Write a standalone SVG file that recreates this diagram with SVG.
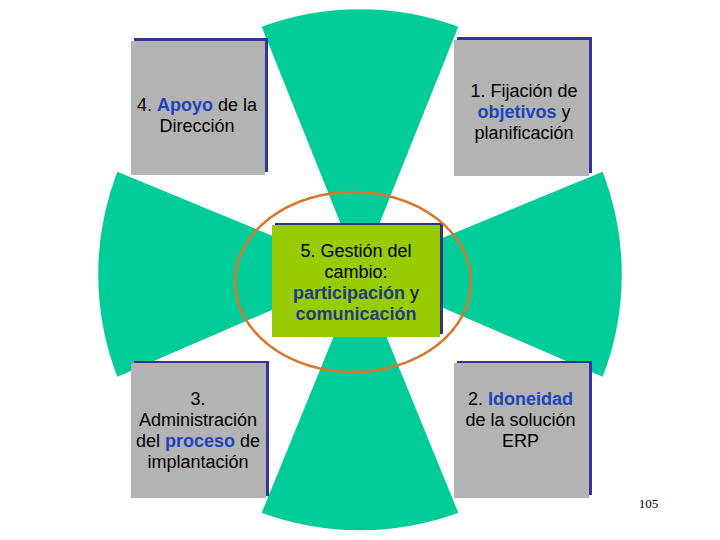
<svg xmlns="http://www.w3.org/2000/svg" width="720" height="540" viewBox="0 0 720 540">
<style>
.wedge{fill:#00cc99}
.shadow{fill:#333399}
.box{fill:#b3b3b3}
.t{font-family:"Liberation Sans",Arial,sans-serif;font-size:18px;fill:#000;text-anchor:middle}
.b{font-weight:bold;fill:#2244bb}
.bc{font-weight:bold;fill:#1f3a8c}
</style>
<rect width="720" height="540" fill="#fff"/>
<g id="wedges">
<path class="wedge" d="M360 272 L261.7 26.7 A285 285 0 0 1 458.3 26.7 Z"/>
<path class="wedge" d="M360 272 L458.3 512.7 A285 285 0 0 1 261.7 512.7 Z"/>
<path class="wedge" d="M360 272 L117.3 376.7 A285 285 0 0 1 117.3 171.7 Z"/>
<path class="wedge" d="M360 272 L602.7 171.7 A285 285 0 0 1 602.7 376.7 Z"/>
</g>
<g id="node4">
<rect class="shadow" x="134" y="38" width="134" height="134"/>
<rect class="box" x="131" y="41" width="134" height="134"/>
<text class="t" x="197" y="111">4. <tspan class="b">Apoyo</tspan> de la</text>
<text class="t" x="197" y="132">Dirección</text>
</g>
<g id="node1">
<rect class="shadow" x="457" y="37" width="135" height="136"/>
<rect class="box" x="454" y="40" width="135" height="136"/>
<text class="t" x="524" y="97">1. Fijación de</text>
<text class="t" x="524" y="118"><tspan class="b">objetivos</tspan> y</text>
<text class="t" x="524" y="139">planificación</text>
</g>
<g id="node3">
<rect class="shadow" x="134" y="361" width="135" height="135"/>
<rect class="box" x="131" y="363" width="135" height="135"/>
<text class="t" x="198" y="405">3.</text>
<text class="t" x="198" y="426">Administración</text>
<text class="t" x="198" y="447">del <tspan class="b">proceso</tspan> de</text>
<text class="t" x="198" y="468">implantación</text>
</g>
<g id="node2">
<rect class="shadow" x="457" y="361" width="135" height="134"/>
<rect class="box" x="454" y="363" width="135" height="135"/>
<text class="t" x="520.5" y="405">2. <tspan class="b">Idoneidad</tspan></text>
<text class="t" x="520.5" y="426">de la solución</text>
<text class="t" x="520.5" y="447">ERP</text>
</g>
<g id="node5">
<rect x="275" y="223" width="168" height="111" fill="#333380"/>
<rect x="272" y="225" width="168" height="112" fill="#99cc00"/>
<text class="t" x="356" y="257">5. Gestión del</text>
<text class="t" x="356" y="278">cambio:</text>
<text class="t" x="356" y="299"><tspan class="bc">participación</tspan> y</text>
<text class="t" x="356" y="320"><tspan class="bc">comunicación</tspan></text>
</g>
<g id="connectors">
<ellipse cx="353" cy="282" rx="118" ry="90" fill="none" stroke="#d9782c" stroke-width="2.5"/>
</g>
<text x="648.5" y="508" font-family="Liberation Serif,'Times New Roman',serif" font-size="13" text-anchor="middle" fill="#000">105</text>
</svg>
